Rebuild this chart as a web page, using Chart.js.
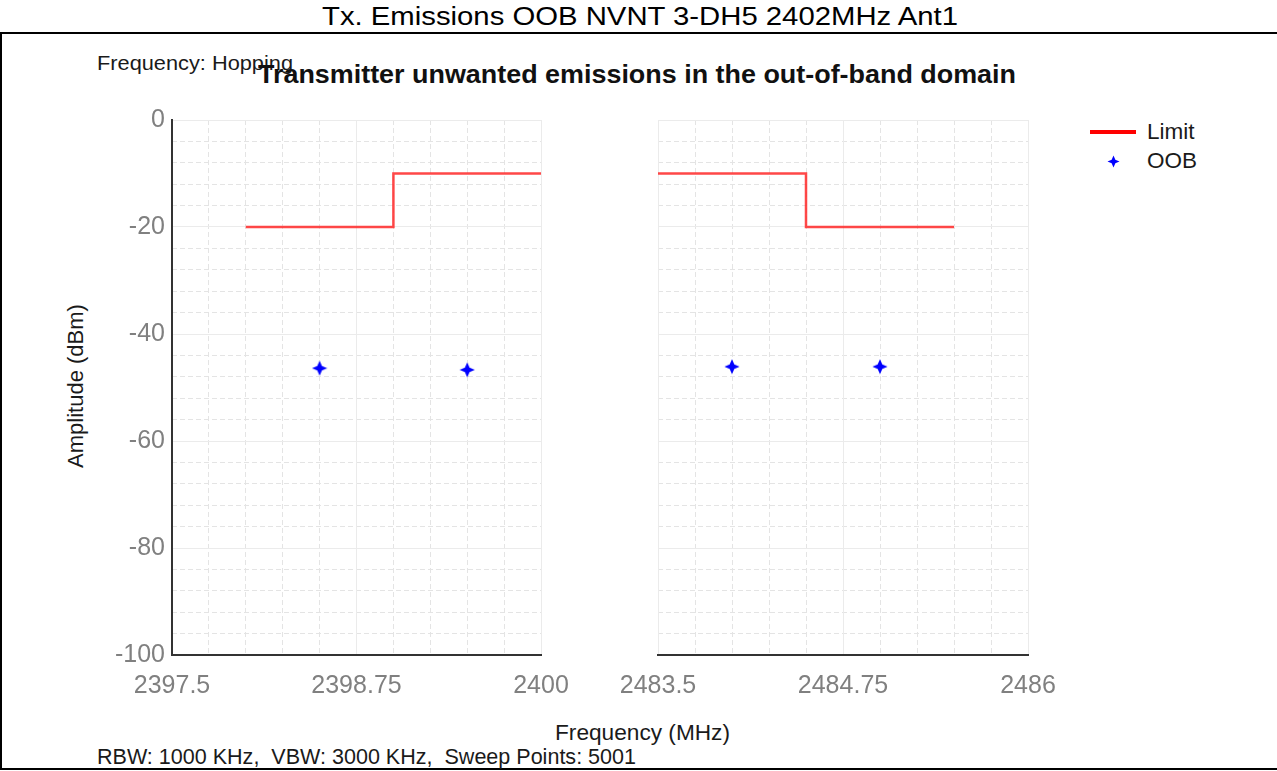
<!DOCTYPE html>
<html><head><meta charset="utf-8">
<script src="https://cdn.jsdelivr.net/npm/chart.js@4"></script>
<style>
html,body{margin:0;padding:0;background:#fff;width:1277px;height:771px;overflow:hidden;font-family:"Liberation Sans",Arial,sans-serif;}
.t{position:absolute;white-space:nowrap;line-height:1;color:#1a1a1a;}
.cw{position:absolute;}
</style></head><body>
<div style="position:absolute;left:0;top:32px;width:1290px;height:734px;border-left:2px solid #000;border-top:2px solid #000;border-bottom:2px solid #000;"></div>

<div class="t" id="hdr" style="left:322px;top:3px;font-size:26px;color:#000;">Tx. Emissions OOB NVNT 3-DH5 2402MHz Ant1</div>
<div class="t" id="freqHop" style="left:97px;top:52px;font-size:21px;">Frequency: Hopping</div>
<div class="t" id="ttl" style="left:258px;top:62px;font-size:25px;font-weight:bold;color:#111;">Transmitter unwanted emissions in the out-of-band domain</div>
<div class="t" id="ylab" style="left:76px;top:386px;font-size:22px;transform:translate(-50%,-50%) rotate(-90deg);">Amplitude (dBm)</div>
<div class="t" id="xlab" style="left:555px;top:722px;font-size:22px;">Frequency (MHz)</div>
<div class="t" id="rbw" style="left:97px;top:746px;font-size:22px;">RBW: 1000 KHz,&nbsp; VBW: 3000 KHz,&nbsp; Sweep Points: 5001</div>

<div class="cw" style="left:0;top:90px;"><canvas id="cLeft" width="600" height="640"></canvas></div>
<div class="cw" style="left:600px;top:90px;"><canvas id="cRight" width="478" height="640"></canvas></div>

<div style="position:absolute;left:1090px;top:130px;width:46px;height:4px;background:#ff0000;"></div>
<div class="t" style="left:1147px;top:121px;font-size:22.5px;">Limit</div>
<canvas id="legStar" width="13" height="13" style="position:absolute;left:1107px;top:155px;"></canvas>
<div class="t" style="left:1147px;top:150px;font-size:22.5px;">OOB</div>

<script>
// ---- data ----
const leftRange = [2397.5, 2400];
const rightRange = [2483.5, 2486];
const ampRange = [-100, 0];
const limitLeftFreq = [2398, 2399, 2399, 2400];
const limitLeftAmp = [-20, -20, -10, -10];
const limitRightFreq = [2483.5, 2484.5, 2484.5, 2485.5];
const limitRightAmp = [-10, -10, -20, -20];
const oobLeftFreq = [2398.5, 2399.5];
const oobLeftAmp = [-46.4, -46.7];
const oobRightFreq = [2484.0, 2485.0];
const oobRightAmp = [-46.1, -46.1];
const xMajorStep = 1.25, xMinorStep = 0.25;
const yMajorStep = 20, yMinorStep = 4;
const seriesNames = ['Limit', 'OOB'];

// fit text widths
function fitW(id, w){ const el=document.getElementById(id); const r=el.getBoundingClientRect().width; el.style.transformOrigin='0 0'; el.style.transform='scaleX('+(w/r)+')'; }
fitW('hdr', 636); fitW('ttl', 758); fitW('rbw', 539); fitW('freqHop', 196); fitW('xlab', 175);

function drawStar(cv, r, ri){
  const c = cv.getContext('2d'); const cx = cv.width/2, cy = cv.height/2;
  c.fillStyle = '#0000ff'; c.beginPath();
  for (let i = 0; i < 8; i++) {
    const a = -Math.PI/2 + i*Math.PI/4; const rr = (i % 2 === 0) ? r : ri;
    const px = cx + rr*Math.cos(a), py = cy + rr*Math.sin(a);
    if (i === 0) c.moveTo(px, py); else c.lineTo(px, py);
  }
  c.closePath(); c.fill();
}
const star = document.createElement('canvas'); star.width = 16; star.height = 16;
drawStar(star, 7.6, 3.3);
drawStar(document.getElementById('legStar'), 6, 2.6);

const FAM = '"Liberation Sans", Arial, sans-serif';
const tickFont = {family: FAM, size: 25};
const tickColor = '#808080';
const majorGrid = '#ebebeb', minorGrid = '#e4e4e4';

function pts(xs, ys){ return xs.map((x,i)=>({x:x, y:ys[i]})); }

function makeChart(id, range, limF, limA, oobF, oobA, showY, yWidth, padRight){
  return new Chart(document.getElementById(id), {
    type: 'scatter',
    data: { datasets: [
      { label: seriesNames[0], data: pts(limF, limA), showLine: true, borderColor: 'rgba(255,40,40,0.85)', borderWidth: 2.5, pointRadius: 0, fill: false, xAxisID: 'x', yAxisID: 'y' },
      { label: seriesNames[1], data: pts(oobF, oobA), showLine: false, pointStyle: star, pointRadius: 8, backgroundColor: '#0000ff', borderColor: '#0000ff', xAxisID: 'x', yAxisID: 'y' }
    ]},
    options: {
      responsive: false, animation: false,
      layout: { padding: { left: 0, right: padRight, top: 30, bottom: 0 } },
      plugins: { legend: { display: false }, tooltip: { enabled: false } },
      scales: {
        x: { type: 'linear', position: 'bottom', min: range[0], max: range[1],
             ticks: { stepSize: xMajorStep, callback: v => String(v), color: tickColor, font: tickFont, padding: 16, maxRotation: 0, autoSkip: false },
             grid: { color: majorGrid, lineWidth: 1, drawTicks: false, z: -1 },
             border: { display: true, color: '#333', width: 2, z: 1 },
             afterFit: s => { s.height = 75; } },
        xMinor: { type: 'linear', position: 'bottom', min: range[0], max: range[1],
             ticks: { display: false, stepSize: xMinorStep },
             grid: { color: minorGrid, lineWidth: 1, drawTicks: false, z: -2 },
             border: { display: false, dash: [5, 3] },
             afterFit: s => { s.height = 0; } },
        y: { type: 'linear', position: 'left', min: ampRange[0], max: ampRange[1],
             ticks: { display: showY, stepSize: yMajorStep, color: tickColor, font: tickFont, padding: 7 },
             grid: { color: majorGrid, lineWidth: 1, drawTicks: false, z: -1 },
             border: { display: showY, color: '#333', width: 2, z: 1 },
             afterFit: s => { s.width = yWidth; } },
        yMinor: { type: 'linear', position: 'left', min: ampRange[0], max: ampRange[1],
             ticks: { display: false, stepSize: yMinorStep },
             grid: { color: minorGrid, lineWidth: 1, drawTicks: false, z: -2 },
             border: { display: false, dash: [5, 3] },
             afterFit: s => { s.width = 0; } }
      }
    }
  });
}
makeChart('cLeft', leftRange, limitLeftFreq, limitLeftAmp, oobLeftFreq, oobLeftAmp, true, 172, 59);
makeChart('cRight', rightRange, limitRightFreq, limitRightAmp, oobRightFreq, oobRightAmp, false, 58, 50);
</script>
</body></html>
